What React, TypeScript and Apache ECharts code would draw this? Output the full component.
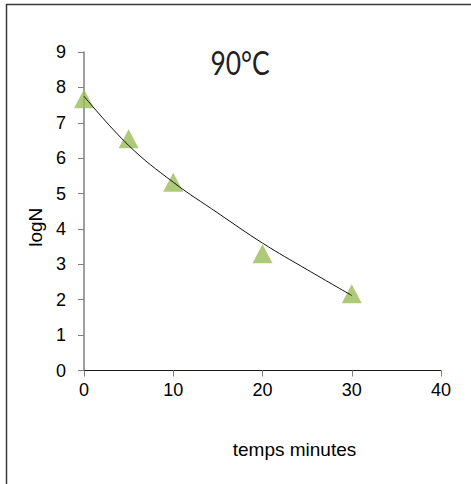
import React, { useEffect, useRef } from "react";
import * as echarts from "echarts";

const timeMinutes = [0, 5, 10, 20, 30];
const logN = [7.68, 6.55, 5.32, 3.3, 2.17];

const trendX = [0, 5, 10, 15, 20, 25, 30];
const trendY = [7.75, 6.36, 5.32, 4.45, 3.6, 2.85, 2.12];

const xTicks = { min: 0, max: 40, interval: 10 };
const yTicks = { min: 0, max: 9, interval: 1 };

const titleText = "90°C";
const xName = "temps minutes";
const yName = "logN";

const FONT = "'Liberation Sans', Arial, sans-serif";

export default function App() {
  const ref = useRef<HTMLDivElement>(null);
  useEffect(() => {
    if (!ref.current) return;
    const chart = echarts.init(ref.current, undefined, { renderer: "svg" });
    chart.setOption({
      animation: false,
      backgroundColor: "#ffffff",
      graphic: [
        {
          type: "rect",
          shape: { x: 6.5, y: 4.5, width: 700, height: 700 },
          style: { fill: "none", stroke: "#3a3a3a", lineWidth: 1.5 },
          silent: true,
        },
        {
          type: "text",
          x: 240,
          y: 62,
          scaleX: 0.8,
          silent: true,
          style: {
            text: titleText,
            fontFamily: "Lato, 'Noto Sans', sans-serif",
            fontSize: 33,
            fill: "#222",
            textAlign: "center",
            textVerticalAlign: "middle",
          },
        },
      ],
      grid: { left: 84, right: 30, top: 52, bottom: 113.5 },
      xAxis: {
        type: "value",
        min: xTicks.min,
        max: xTicks.max,
        interval: xTicks.interval,
        name: xName,
        nameLocation: "middle",
        nameGap: 69,
        nameTextStyle: {
          fontFamily: FONT,
          fontSize: 19,
          color: "#000",
          padding: [0, 0, 0, 64],
        },
        axisLine: { show: true, lineStyle: { color: "#1a1a1a", width: 1 } },
        axisTick: { show: true, length: 6, lineStyle: { color: "#7f7f7f" } },
        axisLabel: { fontFamily: FONT, fontSize: 18, color: "#000", margin: 10 },
        splitLine: { show: false },
      },
      yAxis: {
        type: "value",
        min: yTicks.min,
        max: yTicks.max,
        interval: yTicks.interval,
        name: yName,
        nameLocation: "middle",
        nameGap: 35,
        nameRotate: 90,
        nameTextStyle: {
          fontFamily: FONT,
          fontSize: 19,
          color: "#000",
          padding: [0, 32, 0, 0],
        },
        axisLine: { show: true, lineStyle: { color: "#7f7f7f", width: 1.5 } },
        axisTick: { show: true, length: 6, lineStyle: { color: "#7f7f7f" } },
        axisLabel: { fontFamily: FONT, fontSize: 18, color: "#000", margin: 18 },
        splitLine: { show: false },
      },
      series: [
        {
          type: "scatter",
          data: timeMinutes.map((t, i) => [t, logN[i]]),
          symbol: "triangle",
          symbolSize: [20, 19],
          itemStyle: { color: "#9BBB59" },
          z: 2,
        },
        {
          type: "line",
          data: trendX.map((t, i) => [t, trendY[i]]),
          smooth: 0.4,
          showSymbol: false,
          symbol: "none",
          lineStyle: { color: "#111", width: 1 },
          z: 3,
        },
      ],
    });
    return () => chart.dispose();
  }, []);
  return (
    <div
      ref={ref}
      style={{ position: "fixed", left: 0, top: 0, width: 471, height: 484 }}
    />
  );
}
